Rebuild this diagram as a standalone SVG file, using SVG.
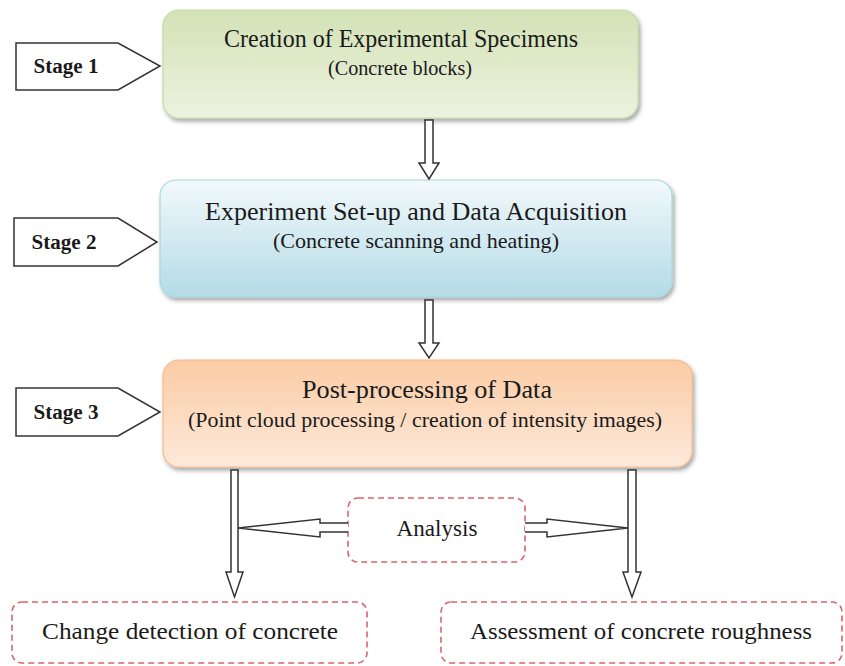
<svg xmlns="http://www.w3.org/2000/svg" width="845" height="666" viewBox="0 0 845 666">
<style>
text{font-family:"Liberation Serif","Times New Roman",serif;fill:#1a1a1a;text-anchor:middle}
.title{font-size:26px}
.sub{font-size:21px}
.stage{font-size:20px;font-weight:bold}
.lbl{font-size:24px}
.tag{fill:#fff;stroke:#333;stroke-width:1.5}
.harrow{fill:#fff;stroke:#333;stroke-width:1.5;stroke-linejoin:miter}
.dash{fill:#fff;stroke:#d9646a;stroke-width:1.6;stroke-dasharray:6 4}
</style>
<defs>
<linearGradient id="gGreen" x1="0" y1="0" x2="0" y2="1">
<stop offset="0" stop-color="#d3e2b6"/><stop offset="1" stop-color="#ecf2df"/>
</linearGradient>
<linearGradient id="gBlue" x1="0" y1="0" x2="0" y2="1">
<stop offset="0" stop-color="#f2f9fb"/><stop offset="1" stop-color="#b4dbe6"/>
</linearGradient>
<linearGradient id="gOrange" x1="0" y1="0" x2="0" y2="1">
<stop offset="0" stop-color="#fbcca5"/><stop offset="1" stop-color="#fde9da"/>
</linearGradient>
<filter id="sh" x="-5%" y="-10%" width="115%" height="130%">
<feDropShadow dx="2" dy="3" stdDeviation="2" flood-color="#000" flood-opacity="0.35"/>
</filter>
</defs>

<g id="stage1"><polygon class="tag" points="16,43 118,43 160,66 118,90 16,90"/><text class="stage" x="66" y="73" textLength="65" lengthAdjust="spacingAndGlyphs">Stage 1</text></g>
<g id="stage2"><polygon class="tag" points="14,218 118,218 157,242 118,266 14,266"/><text class="stage" x="64" y="249" textLength="65" lengthAdjust="spacingAndGlyphs">Stage 2</text></g>
<g id="stage3"><polygon class="tag" points="16,388 118,388 160,412 118,436 16,436"/><text class="stage" x="66" y="419" textLength="65" lengthAdjust="spacingAndGlyphs">Stage 3</text></g>

<g id="box1"><rect x="163" y="10" width="475" height="108" rx="16" fill="url(#gGreen)" stroke="#c6d9a2" stroke-width="1.2" filter="url(#sh)"/>
<text class="title" x="401" y="47" textLength="354" lengthAdjust="spacingAndGlyphs">Creation  of Experimental  Specimens</text>
<text class="sub" x="400" y="75" textLength="144" lengthAdjust="spacingAndGlyphs">(Concrete blocks)</text></g>

<g id="box2"><rect x="160" y="180" width="512" height="117" rx="16" fill="url(#gBlue)" stroke="#a9d6e3" stroke-width="1.2" filter="url(#sh)"/>
<text class="title" x="416" y="220" textLength="422" lengthAdjust="spacingAndGlyphs">Experiment  Set-up and Data Acquisition</text>
<text class="sub" x="416" y="248" textLength="286" lengthAdjust="spacingAndGlyphs">(Concrete  scanning and heating)</text></g>

<g id="box3"><rect x="163" y="360" width="529" height="107" rx="16" fill="url(#gOrange)" stroke="#f6b98e" stroke-width="1.2" filter="url(#sh)"/>
<text class="title" x="427" y="398" textLength="250" lengthAdjust="spacingAndGlyphs">Post-processing  of Data</text>
<text class="sub" x="425" y="427" textLength="474" lengthAdjust="spacingAndGlyphs">(Point cloud processing / creation of intensity images)</text></g>

<g id="analysis"><rect class="dash" x="348" y="498" width="177" height="64" rx="10"/><text class="lbl" x="437" y="536" textLength="81" lengthAdjust="spacingAndGlyphs">Analysis</text></g>
<g id="change"><rect class="dash" x="12" y="602" width="355" height="61" rx="10"/><text class="lbl" x="190" y="639" textLength="296" lengthAdjust="spacingAndGlyphs">Change detection of concrete</text></g>
<g id="rough"><rect class="dash" x="441" y="602" width="401" height="61" rx="10"/><text class="lbl" x="641" y="639" textLength="342" lengthAdjust="spacingAndGlyphs">Assessment of concrete roughness</text></g>

<g id="connectors">
<path class="harrow" d="M425,120 H433 V163 H439 L429,179 L419,163 H425 Z"/>
<path class="harrow" d="M425,300 H433 V343 H439 L429,358 L419,343 H425 Z"/>
<path class="harrow" d="M231,470 H238 V572 H243 L234.5,597 L226,572 H231 Z"/>
<path class="harrow" d="M628,470 H636 V572 H641 L632,597 L623,572 H628 Z"/>
<path class="harrow" d="M348,523 H320 V519 L238,528 L320,537 V532 H348"/>
<path class="harrow" d="M525,523 H547 V519 L628,528 L547,537 V532 H525"/>
</g>
</svg>
